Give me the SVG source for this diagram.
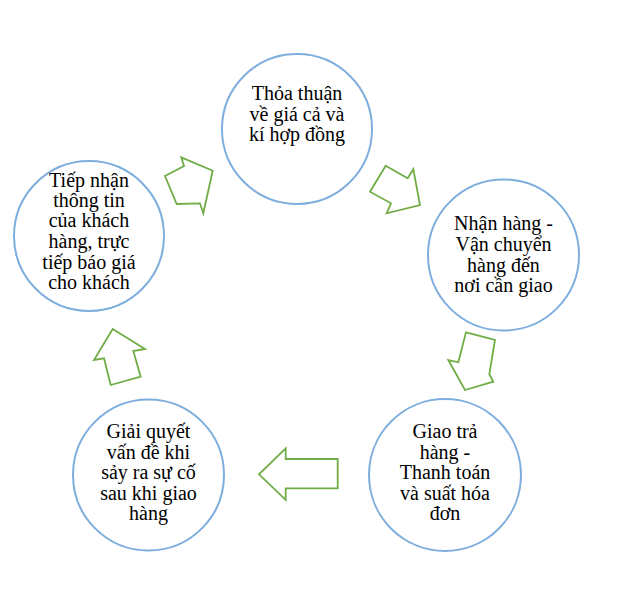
<svg xmlns="http://www.w3.org/2000/svg" width="643" height="608" viewBox="0 0 643 608">
<style>
.node circle{fill:#fff;stroke:#7EAEDD;stroke-width:2}
.node text{font-family:'Liberation Serif','Times New Roman',serif;font-size:20px;fill:#000;text-anchor:middle}
.conn polygon{fill:#fff;stroke:#70AD47;stroke-width:1.8;stroke-linejoin:miter}
</style>
<rect width="643" height="608" fill="#fff"/>
<g id="connectors" class="conn">
<polygon points="165,176 184,166 181.3,157.3 212.7,170.7 203.3,213.3 200,203.3 176.7,204"/>
<polygon points="385.7,165.7 407.7,178.3 413.3,169.3 420,205 386.7,213.3 391,203.3 370,191.7"/>
<polygon points="466,332.3 495,340 489.3,374.3 493.3,381.7 465,390 448.3,360 458.3,362.3"/>
<polygon points="337.7,459 285.7,459 285.7,448.3 259,474.3 285.7,500 285.7,488.3 337.7,488.3"/>
<polygon points="112.7,329 145,349 133.3,351 140.7,376.7 110.7,385 104,358.3 94,360"/>
</g>
<g id="node-thoa-thuan" class="node" font-family="Liberation Serif, serif">
<circle cx="297" cy="129" r="75"/>
<text x="297" y="100">Thỏa thuận</text>
<text x="297" y="121">về giá cả và</text>
<text x="297" y="141">kí hợp đồng</text>
</g>
<g id="node-nhan-hang" class="node" font-family="Liberation Serif, serif">
<circle cx="503.5" cy="255" r="75.5"/>
<text x="503.5" y="230">Nhận hàng -</text>
<text x="503.5" y="251">Vận chuyển</text>
<text x="503.5" y="272">hàng đến</text>
<text x="503.5" y="292">nơi cần giao</text>
</g>
<g id="node-giao-tra" class="node" font-family="Liberation Serif, serif">
<circle cx="445" cy="475" r="76"/>
<text x="445" y="438">Giao trả</text>
<text x="445" y="459">hàng -</text>
<text x="445" y="479">Thanh toán</text>
<text x="445" y="500">và suất hóa</text>
<text x="445" y="520">đơn</text>
</g>
<g id="node-giai-quyet" class="node" font-family="Liberation Serif, serif">
<circle cx="148.5" cy="475" r="75.5"/>
<text x="148.5" y="438">Giải quyết</text>
<text x="148.5" y="459">vấn đề khi</text>
<text x="148.5" y="479">sảy ra sự cố</text>
<text x="148.5" y="500">sau khi giao</text>
<text x="148.5" y="520">hàng</text>
</g>
<g id="node-tiep-nhan" class="node" font-family="Liberation Serif, serif">
<circle cx="89" cy="236" r="75"/>
<text x="89" y="187">Tiếp nhận</text>
<text x="89" y="207">thông tin</text>
<text x="89" y="227">của khách</text>
<text x="89" y="248">hàng, trực</text>
<text x="89" y="269">tiếp báo giá</text>
<text x="89" y="289">cho khách</text>
</g>
</svg>
